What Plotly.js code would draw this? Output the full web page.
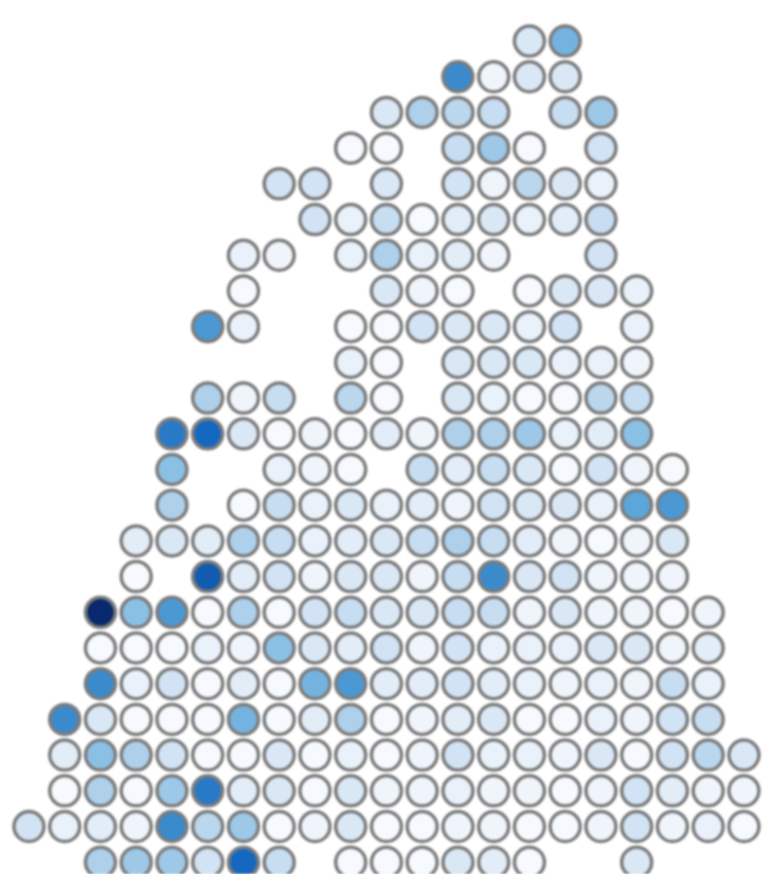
<!DOCTYPE html>
<html>
<head>
<meta charset="utf-8">
<script src="https://cdn.plot.ly/plotly-3.0.1.min.js"></script>
<style>html,body{margin:0;padding:0;background:#fff}#g{width:765px;height:874px;filter:blur(0.9px)}</style>
</head>
<body>
<div id="g"></div>
<script>
const _ = null;
//            0  1  2   3   4   5   6   7   8   9  10  11  12  13  14  15  16  17  18  19  20
const row00 = [_, _, _,  _,  _,  _,  _,  _,  _,  _,  _,  _,  _,  _,  3,6.5, _,  _,  _,  _,  _];
const row01 = [_, _, _,  _,  _,  _,  _,  _,  _,  _,  _,  _,  8,1.5,  3,  3, _,  _,  _,  _,  _];
const row02 = [_, _, _,  _,  _,  _,  _,  _,  _,  _,  3,  5,4.5,  4,  _,  4,5.5, _,  _,  _,  _];
const row03 = [_, _, _,  _,  _,  _,  _,  _,  _,  1,  1,  _,  4,5.5,  1,  _,3.5, _,  _,  _,  _];
const row04 = [_, _, _,  _,  _,  _,  _,3.5,3.5,  _,  3,  _,3.5,1.5,4.5,  3,  2, _,  _,  _,  _];
const row05 = [_, _, _,  _,  _,  _,  _,  _,3.5,  2,  4,  1,2.5,  3,  2,2.5,  4, _,  _,  _,  _];
const row06 = [_, _, _,  _,  _,  _,  2,1.5,  _,  2,  5,  2,2.5,1.5,  _,  _,3.5, _,  _,  _,  _];
const row07 = [_, _, _,  _,  _,  _,  1,  _,  _,  _,  3,1.5,  1,  _,  1,  3,  3, 2,  _,  _,  _];
const row08 = [_, _, _,  _,  _,7.5,  2,  _,  _,  1,  1,3.5,  3,  3,  2,3.5,  _, 2,  _,  _,  _];
const row09 = [_, _, _,  _,  _,  _,  _,  _,  _,  2,  1,  _,  3,  3,  3,  2,  2,1.5, _,  _,  _];
const row10 = [_, _, _,  _,  _,  5,1.5,  4,  _,4.5,  1,  _,  3,  2,  1,  1,4.5, 4,  _,  _,  _];
const row11 = [_, _, _,  _,8.5,  9,  3,  1,1.5,  1,2.5,1.5,  5,  5,5.5,  2,2.5, 6,  _,  _,  _];
const row12 = [_, _, _,  _,  6,  _,  _,  2,1.5,  1,  _,  4,2.5,  4,  3,  1,3.5,1.5, 1,  _,  _];
const row13 = [_, _, _,  _,  5,  _,  1,  4,  2,  3,  2,2.5,1.5,3.5,  3,  3,  2, 7,7.5,  _,  _];
const row14 = [_, _, _,2.5,  3,2.5,  5,  4,  2,2.5,  3,  4,  5,  4,2.5,1.5,  1,1.5, 3,  _,  _];
const row15 = [_, _, _,  1,  _,9.2,2.5,3.5,1.5,  3,  3,1.5,  4,  8,  3,3.5,1.5,1.5,1.5, _,  _];
const row16 = [_, _,10,  6,7.5,  1,  5,  1,3.5,  4,  3,  3,  4,  4,1.5,  3,1.5,1.5, 1,1.5, _];
const row17 = [_, _, 1,  1,  1,  2,1.5,  6,  3,2.5,3.5,1.5,3.5,  2,  2,  2,  3, 3,1.5,2.5, _];
const row18 = [_, _, 8,  2,3.5,  1,2.5,  1,6.5,7.5,2.5,2.5,3.5,2.5,  2,1.5,  2,1.5, 4, 2,  _];
const row19 = [_, 8, 3,  1,  1,  1,6.5,  1,2.5,  5,  1,1.5,2.5,  3,  1,  1,  2,1.5,3.5, 4, _];
const row20 = [_,2.5,6,  5,3.5,  1,  1,  3,  1,  2,  1,1.5,3.5,  2,  2,1.5,  3, 1,3.5,4.5,3];
const row21 = [_, 1, 5,  1,5.5,8.5,2.5,  3,  1,  3,1.5,1.5,  2,1.5,1.5,  1,1.5,3.5,2.5,1.5,1.5];
const row22 = [3.5,2,2.5,1.5,8,4.5,5.5,  1,1.5,  3,  1,  1,1.5,1.5,  1,  1,1.5,3.5,1.5, 2, 1];
const row23 = [_, _, 5,5.5,5.5,3.5,  9,  4,  _,  1,  1,  1,  3,2.5,  1,  _,  _, 3,  _,  _,  _];
const rows = [row00,row01,row02,row03,row04,row05,row06,row07,row08,row09,row10,row11,
              row12,row13,row14,row15,row16,row17,row18,row19,row20,row21,row22,row23];

const xs = [], ys = [], vals = [];
rows.forEach((r, j) => r.forEach((v, i) => {
  if (v !== null) { xs.push(i); ys.push(j); vals.push(v); }
}));

const colorStops = [
  [0.0, '#fbfcfe'], [0.1, '#f6f9fd'], [0.2, '#e9f1fa'], [0.3, '#dae8f6'],
  [0.4, '#c7ddf1'], [0.5, '#aed0eb'], [0.6, '#8bc0e5'], [0.7, '#5ca6da'],
  [0.8, '#3a8acc'], [0.9, '#1568bf'], [1.0, '#08296b']
];

Plotly.newPlot('g', [{
  type: 'scatter', mode: 'markers', x: xs, y: ys,
  marker: {
    size: 30, color: vals, cmin: 0, cmax: 10, colorscale: colorStops, showscale: false,
    line: {color: '#7d7d7d', width: 3.5}
  },
  hoverinfo: 'skip'
}], {
  width: 765, height: 874, margin: {l: 0, r: 0, t: 0, b: 0},
  paper_bgcolor: '#fff', plot_bgcolor: '#fff', showlegend: false,
  xaxis: {visible: false, range: [-0.81, 20.59], fixedrange: true},
  yaxis: {visible: false, range: [23.33, -1.15], fixedrange: true}
}, {displayModeBar: false, staticPlot: true});
</script>
</body>
</html>
